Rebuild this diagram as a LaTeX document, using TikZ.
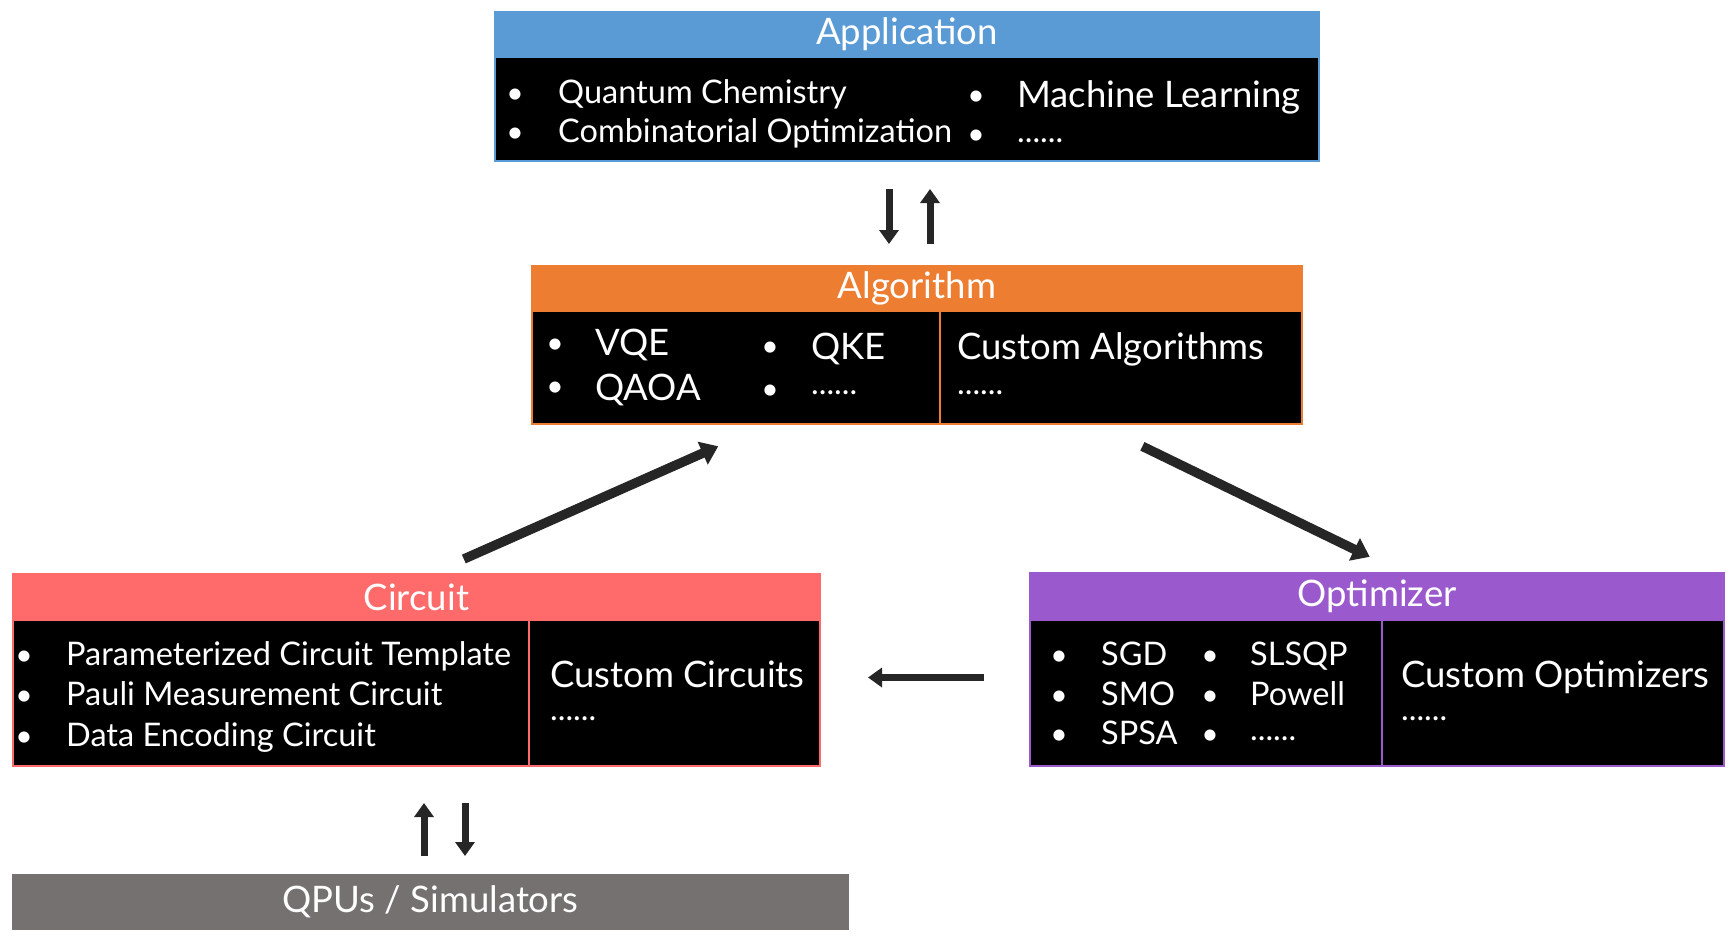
\documentclass[tikz,border=0pt]{standalone}
\usepackage{fontspec}
\setmainfont{Lato}
\usetikzlibrary{positioning,arrows.meta}
\definecolor{appblue}{HTML}{5B9BD5}
\definecolor{algorange}{HTML}{ED7D31}
\definecolor{circred}{HTML}{FF6A6A}
\definecolor{optpurple}{HTML}{9A5ACD}
\definecolor{qpugray}{HTML}{767171}
\definecolor{arrowgray}{HTML}{262626}
\begin{document}
\begin{tikzpicture}[x=1pt,y=-1pt,
  hdr/.style={anchor=north west, inner sep=0pt, outer sep=0pt, text=white, line width=2.5pt, font=\fontsize{36.5}{42}\selectfont},
  cell/.style={anchor=north west, inner sep=0pt, outer sep=0pt, fill=black, line width=2.5pt},
  item/.style={anchor=base west, inner sep=0pt, text=white, font=\fontsize{32.5}{38}\selectfont},
  bigitem/.style={item, font=\fontsize{36.5}{42}\selectfont},
  bullet/.style={anchor=base, inner sep=0pt, text=white, font=\fontsize{30}{36}\selectfont},
  bigarrow/.style={draw=arrowgray, line width=7pt, -{Triangle[width=19pt,length=14pt]}},
  diagarrow/.style={draw=arrowgray, line width=9.5pt, -{Triangle[width=24pt,length=17pt]}}]
\useasboundingbox (0,0) rectangle (1732,948);
\node[hdr, fill=appblue, draw=appblue, minimum width=824pt, minimum height=45pt] (apphead) at (495,12) {Application};
\node[cell, draw=appblue, minimum width=824pt, minimum height=104pt] (app) at (apphead.south west) {};
\node[bullet] (appb1) at (515,103) {•};
\node[item] (app1) at (558,103) {Quantum Chemistry};
\node[bullet] (appb2) at (515,142) {•};
\node[item] (app2) at (558,142) {Combinatorial Optimization};
\node[bullet] (appb3) at (976,105) {•};
\node[bigitem] (app3) at (1017,107) {Machine Learning};
\node[bullet] (appb4) at (976,144) {•};
\node[item] (app4) at (1017,142) {......};
\node[hdr, fill=algorange, draw=algorange, minimum width=770pt, minimum height=45pt] (alghead) at (532,266) {Algorithm};
\node[cell, draw=algorange, minimum width=408pt, minimum height=113pt] (algl) at (alghead.south west) {};
\node[cell, draw=algorange, minimum width=362pt, minimum height=113pt] (algr) at (algl.north east) {};
\node[bullet] (algb1) at (555,353) {•};
\node[bigitem] (alg1) at (595,355) {VQE};
\node[bullet] (algb2) at (555,396) {•};
\node[bigitem] (alg2) at (595,400) {QAOA};
\node[bullet] (algb3) at (770,356) {•};
\node[bigitem] (alg3) at (811,359) {QKE};
\node[bullet] (algb4) at (770,399) {•};
\node[item] (alg4) at (811,394) {......};
\node[bigitem] (alg5) at (957,359) {Custom Algorithms};
\node[item] (alg6) at (957,394) {......};
\node[hdr, fill=circred, draw=circred, minimum width=807pt, minimum height=46pt] (circhead) at (13,574) {Circuit};
\node[cell, draw=circred, minimum width=516pt, minimum height=146pt] (circl) at (circhead.south west) {};
\node[cell, draw=circred, minimum width=291pt, minimum height=146pt] (circr) at (circl.north east) {};
\node[bullet] (circb1) at (24,665) {•};
\node[item] (circ1) at (66,665) {Parameterized Circuit Template};
\node[bullet] (circb2) at (24,705) {•};
\node[item] (circ2) at (66,705) {Pauli Measurement Circuit};
\node[bullet] (circb3) at (24,746) {•};
\node[item] (circ3) at (66,746) {Data Encoding Circuit};
\node[bigitem] (circ4) at (550,687) {Custom Circuits};
\node[item] (circ5) at (550,720) {......};
\node[hdr, fill=optpurple, draw=optpurple, minimum width=694pt, minimum height=47pt] (opthead) at (1030,573) {Optimizer};
\node[cell, draw=optpurple, minimum width=352pt, minimum height=146pt] (optl) at (opthead.south west) {};
\node[cell, draw=optpurple, minimum width=342pt, minimum height=146pt] (optr) at (optl.north east) {};
\node[bullet] (optb1) at (1059,665) {•};
\node[item] (opt1) at (1101,665) {SGD};
\node[bullet] (optb2) at (1059,705) {•};
\node[item] (opt2) at (1101,705) {SMO};
\node[bullet] (optb3) at (1059,744) {•};
\node[item] (opt3) at (1101,744) {SPSA};
\node[bullet] (optb4) at (1210,665) {•};
\node[item] (opt4) at (1250,665) {SLSQP};
\node[bullet] (optb5) at (1210,705) {•};
\node[item] (opt5) at (1250,705) {Powell};
\node[bullet] (optb6) at (1210,744) {•};
\node[item] (opt6) at (1250,740) {......};
\node[bigitem] (opt7) at (1401,687) {Custom Optimizers};
\node[item] (opt8) at (1401,720) {......};
\node[hdr, fill=qpugray, minimum width=837pt, minimum height=56pt] (qpu) at (12,874) {QPUs / Simulators};
\draw[bigarrow, shorten <=28pt, shorten >=22pt] ([xshift=-18pt]app.south) -- ([xshift=-18pt]app.south |- alghead.north);
\draw[bigarrow, shorten <=22pt, shorten >=28pt] ([xshift=23pt]app.south |- alghead.north) -- ([xshift=23pt]app.south);
\draw[diagarrow, shorten <=37pt, shorten >=55pt] ([xshift=13.5pt]circhead.north) -- ([xshift=32.5pt]algl.south);
\draw[diagarrow, shorten <=51pt, shorten >=37pt] ([xshift=-24.5pt]algr.south) -- ([xshift=26pt]opthead.north);
\draw[bigarrow, shorten <=46pt, shorten >=48pt] ([yshift=15.5pt]optl.west) -- ([yshift=15.5pt]circr.east);
\draw[bigarrow, shorten <=18pt, shorten >=37pt] ([xshift=-6.5pt]qpu.north) -- ([xshift=-6.5pt]qpu.north |- circl.south);
\draw[bigarrow, shorten <=37pt, shorten >=18pt] ([xshift=34.5pt]qpu.north |- circl.south) -- ([xshift=34.5pt]qpu.north);
\end{tikzpicture}
\end{document}
